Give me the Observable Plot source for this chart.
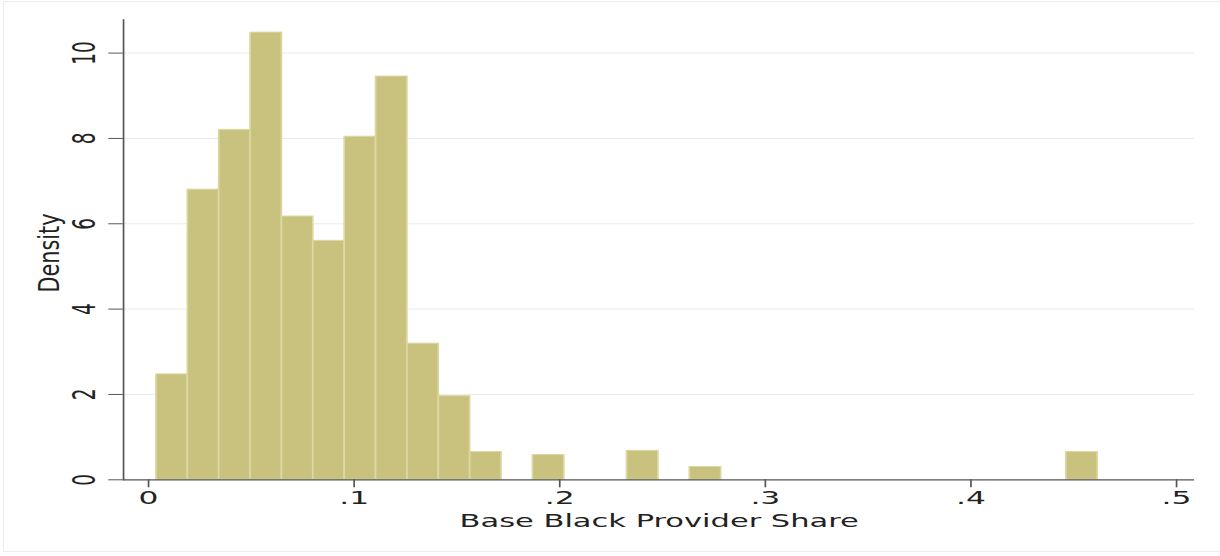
<!DOCTYPE html>
<html>
<head>
<meta charset="utf-8">
<script src="https://cdn.jsdelivr.net/npm/d3@7"></script>
<script src="https://cdn.jsdelivr.net/npm/@observablehq/plot@0.6"></script>
<style>
  html, body { margin: 0; padding: 0; background: #ffffff; overflow: hidden; }
  #wrap { position: relative; width: 1220px; height: 556px; }
  #border { position: absolute; left: 3px; top: 1px; width: 1222px; height: 551px;
            border: 1.5px solid #e8eef0; pointer-events: none; box-sizing: border-box; }
</style>
</head>
<body>
<div id="wrap"><div id="chart"></div><div id="border"></div></div>
<script>
// Histogram parameters and values
const binStart = 0.004;
const binWidth = 0.01526;
const densities = [2.47, 6.80, 8.20, 10.48, 6.17, 5.60, 8.04, 9.45, 3.19, 1.96,
                   0.65, 0, 0.58, 0, 0, 0.68, 0, 0.30, 0, 0,
                   0, 0, 0, 0, 0, 0, 0, 0, 0, 0.65];
const xTicks = [0, 0.1, 0.2, 0.3, 0.4, 0.5];
const xTickLabels = ["0", ".1", ".2", ".3", ".4", ".5"];
const yTicks = [0, 2, 4, 6, 8, 10];
const xTitle = "Base Black Provider Share";
const yTitle = "Density";

const bins = densities
  .map((d, i) => ({x1: binStart + i * binWidth, x2: binStart + (i + 1) * binWidth, density: d}))
  .filter(b => b.density > 0);

// The reference is horizontally stretched; draw at a base width and stretch.
const W = 1220, H = 556, baseW = 720;

const chart = Plot.plot({
  width: baseW,
  height: H,
  marginLeft: 72.41,
  marginRight: 15.34,
  marginTop: 19.3,
  marginBottom: 76.7,
  style: {fontFamily: "DejaVu Sans", fontSize: "18.5px", background: "#ffffff", color: "#222"},
  x: {domain: [-0.01216, 0.5089], label: null},
  y: {domain: [0, 10.78], label: null},
  marks: [
    Plot.gridY(yTicks.filter(d => d > 0), {stroke: "#e4eef1", strokeOpacity: 1, strokeWidth: 1}),
    Plot.rectY(bins, {x1: "x1", x2: "x2", y: "density", fill: "#c9c27f", stroke: "#dcd8a2", strokeWidth: 1}),
    Plot.ruleY([0], {stroke: "#555", strokeWidth: 1.3}),
    Plot.frame({anchor: "left", stroke: "#555", strokeWidth: 1}),
    Plot.axisX(xTicks, {tickSize: 8, tickPadding: 3, stroke: "#555",
      tickFormat: (d, i) => xTickLabels[i], label: null, fontSize: 18.5, fill: "#222"}),
    Plot.axisY(yTicks, {tickSize: 8.5, tickPadding: 8.25, tickRotate: -90, stroke: "#555",
      label: null, fontSize: 18.5, fill: "#222"}),
    Plot.text([yTitle], {frameAnchor: "left", rotate: -90, lineAnchor: "bottom", textAnchor: "start",
      dx: -38, dy: 42.7, fontSize: 16.5, fill: "#222", fontFamily: "DejaVu Sans"}),
    Plot.text([xTitle], {frameAnchor: "bottom", lineAnchor: "top", dy: 34,
      fontSize: 18, fill: "#222", fontFamily: "DejaVu Sans"})
  ]
});

chart.setAttribute("width", W);
chart.setAttribute("height", H);
chart.setAttribute("preserveAspectRatio", "none");
chart.style.width = W + "px";
chart.style.height = H + "px";
chart.style.maxWidth = "none";
document.getElementById("chart").appendChild(chart);

// stretch the y-title along its length to match the reference
d3.select(chart).selectAll("text").filter(function() { return this.textContent === yTitle; })
  .attr("textLength", 79).attr("lengthAdjust", "spacingAndGlyphs");
</script>
</body>
</html>
